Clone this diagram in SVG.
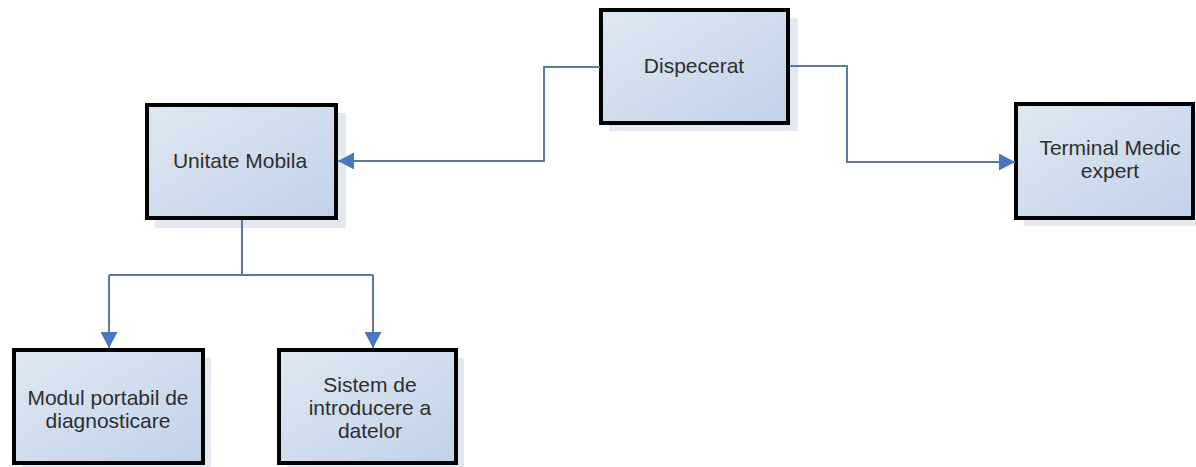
<svg xmlns="http://www.w3.org/2000/svg" width="1196" height="467" viewBox="0 0 1196 467">
<defs>
<linearGradient id="g" x1="0" y1="0" x2="1" y2="1">
<stop offset="0" stop-color="#dfe8f3"/>
<stop offset="1" stop-color="#c0d2e8"/>
</linearGradient>
<marker id="a" viewBox="0 0 10 10" refX="10" refY="5" markerWidth="16" markerHeight="17" markerUnits="userSpaceOnUse" orient="auto" preserveAspectRatio="none">
<path d="M0,0 L10,5 L0,10 Z" fill="#4a75c3"/>
</marker>
<style>
.box{fill:url(#g);stroke:#000;stroke-width:4}
.sh{fill:#e4e9f1}
.t{font-family:"Liberation Sans",Arial,sans-serif;font-size:21px;fill:#2e2e2e;text-anchor:middle}
.c{fill:none;stroke:#5a78b0;stroke-width:2}
</style>
</defs>
<rect width="1196" height="467" fill="#fff"/>
<g id="dispecerat">
<rect class="sh" x="609" y="18" width="189" height="113"/>
<rect class="box" x="601" y="10" width="187" height="113"/>
<text class="t" x="694" y="73">Dispecerat</text>
</g>
<g id="unitate">
<rect class="sh" x="155" y="113" width="191" height="115"/>
<rect class="box" x="147" y="105" width="189" height="113"/>
<text class="t" x="240" y="168">Unitate Mobila</text>
</g>
<g id="terminal">
<rect class="sh" x="1024" y="112" width="177" height="114"/>
<rect class="box" x="1016" y="104" width="177" height="114"/>
<text class="t" x="1110" y="155">Terminal Medic</text>
<text class="t" x="1110" y="178">expert</text>
</g>
<g id="modul">
<rect class="sh" x="22" y="358" width="189" height="113"/>
<rect class="box" x="14" y="350" width="189" height="113"/>
<text class="t" x="108" y="405">Modul portabil de</text>
<text class="t" x="108" y="428">diagnosticare</text>
</g>
<g id="sistem">
<rect class="sh" x="287" y="358" width="177" height="113"/>
<rect class="box" x="279" y="350" width="177" height="113"/>
<text class="t" x="370" y="392">Sistem de</text>
<text class="t" x="370" y="415">introducere a</text>
<text class="t" x="370" y="438">datelor</text>
</g>
<g id="connectors">
<path class="c" d="M600,67 H544 V161 H338" marker-end="url(#a)"/>
<path class="c" d="M790,66 H847 V162 H1015" marker-end="url(#a)"/>
<path class="c" d="M242,220 V275"/>
<path class="c" d="M109,275 H373"/>
<path class="c" d="M109,275 V348" marker-end="url(#a)"/>
<path class="c" d="M373,275 V348" marker-end="url(#a)"/>
</g>
</svg>
